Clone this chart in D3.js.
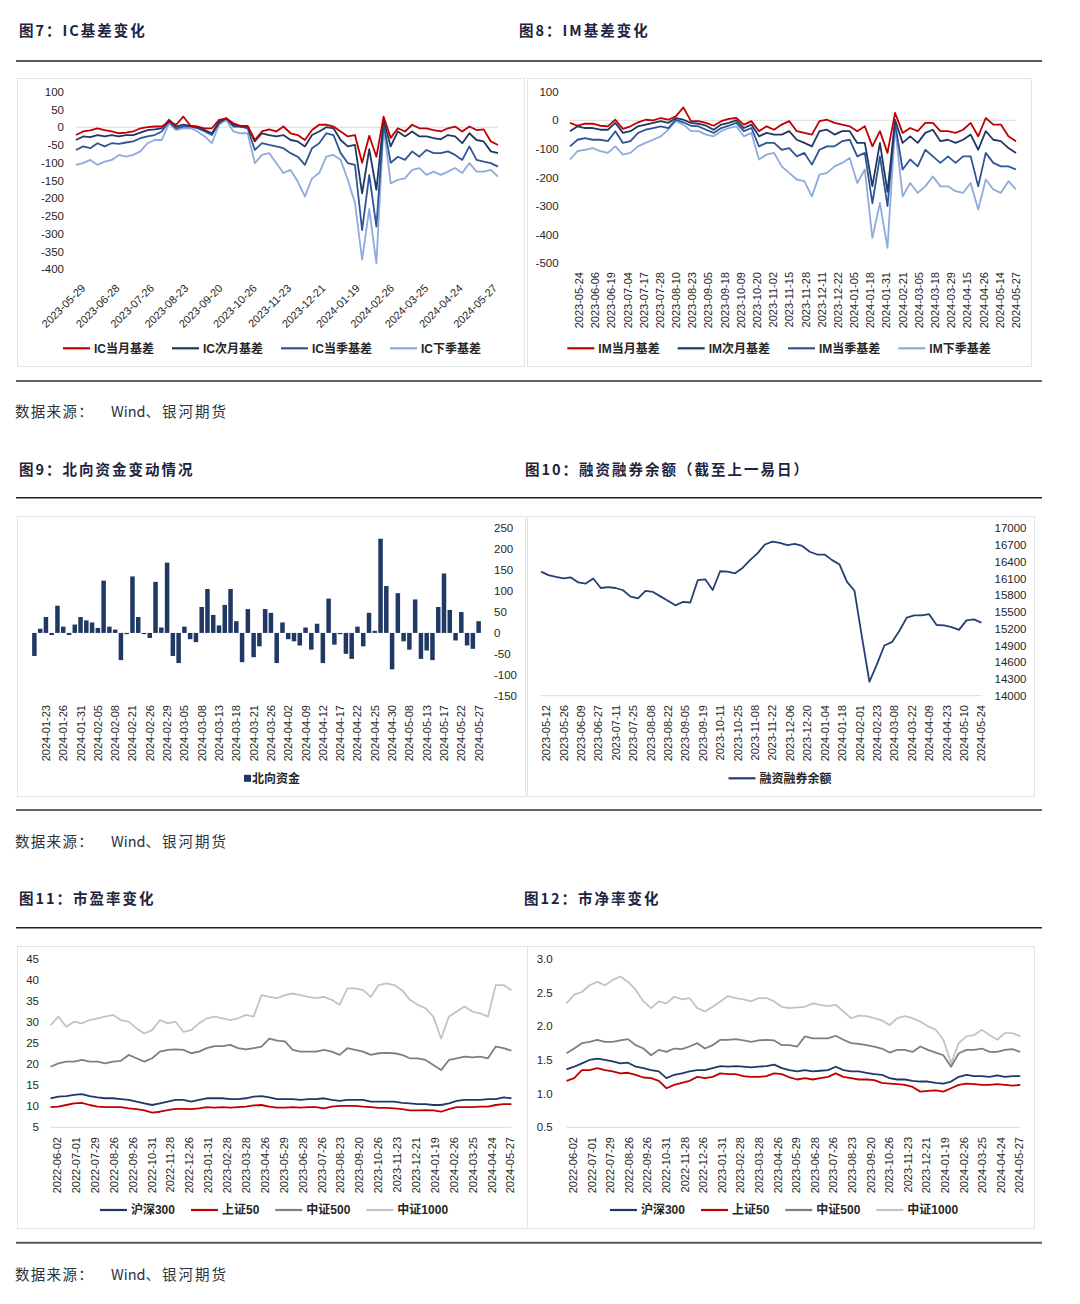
<!DOCTYPE html>
<html>
<head>
<meta charset="utf-8">
<script src="https://cdn.jsdelivr.net/npm/d3@7"></script>
<style>
  body { margin: 0; background: #fff; }
</style>
</head>
<body>
<script>
// ---------- data ----------

// fig 7: IC basis, 60 samples over ~246 trading days
const icDates = ["2023-05-29","2023-06-28","2023-07-26","2023-08-23","2023-09-20","2023-10-26","2023-11-23","2023-12-21","2024-01-19","2024-02-26","2024-03-25","2024-04-24","2024-05-27"];
const icCur = [-22,-12,-9,-3,-8,-12,-17,-15,-12,-3, 0,2,2,16,7,30,4,2,-3,-3, 21,25,11,4,4,-36,-12,-6,-12,2, -17,-22,-36,-8,7,7,2,-12,-26,-22, -100,-24,-83,30,-30,-3,-12,7,-3,-3, -8,-12,-3,2,-12,2,-8,-6,-40,-50];
const icNext = [-36,-26,-28,-22,-26,-22,-26,-22,-22,-15, -8,-6,-3,21,2,7,4,0,-8,-17, 16,25,7,2,2,-40,-17,-22,-26,-22, -36,-40,-54,-22,-12,0,-3,-36,-54,-50, -186,-62,-176,21,-54,-12,-26,-12,-26,-26, -31,-34,-22,-26,-45,-17,-36,-40,-68,-73];
const icQtr = [-64,-54,-59,-45,-54,-45,-47,-43,-40,-31, -26,-22,-12,16,-3,2,2,-3,-12,-22, 11,25,2,2,-3,-64,-45,-50,-54,-59, -73,-83,-106,-59,-45,-17,-22,-73,-101,-106, -290,-134,-280,11,-100,-83,-92,-68,-83,-64, -73,-73,-68,-78,-92,-54,-92,-97,-101,-111];
const icNextQtr = [-106,-101,-92,-106,-97,-92,-78,-83,-78,-68, -45,-36,-36,11,-8,-3,-3,-12,-26,-45, 7,21,-12,-17,-17,-101,-78,-73,-101,-129, -120,-153,-195,-144,-129,-83,-78,-92,-148,-213, -373,-230,-383,2,-158,-148,-144,-120,-115,-134, -125,-134,-125,-115,-129,-101,-125,-125,-120,-139];

// fig 8: IM basis
const imDates = ["2023-05-24","2023-06-06","2023-06-19","2023-07-04","2023-07-17","2023-07-28","2023-08-10","2023-08-23","2023-09-05","2023-09-18","2023-10-09","2023-10-20","2023-11-02","2023-11-15","2023-11-28","2023-12-11","2023-12-22","2024-01-05","2024-01-18","2024-01-31","2024-02-21","2024-03-05","2024-03-18","2024-03-29","2024-04-15","2024-04-26","2024-05-14","2024-05-27"];
const imCur = [-9,-19,-12,-12,-19,-21,2,-30,-21,-7, 2,0,8,2,14,45,-3,-3,-9,-19, -3,5,8,-15,-3,-38,-21,-33,-15,-3, -38,-44,-50,-3,2,-9,-15,-21,-38,-21, -91,-38,-114,26,-44,-27,-38,-9,-9,-38, -38,-44,-33,-9,-56,8,-15,-15,-56,-73];
const imNext = [-38,-21,-27,-27,-33,-33,-9,-44,-38,-21, -15,-9,-3,-9,8,2,-9,-12,-19,-33, -15,-9,0,-27,-15,-56,-44,-50,-50,-38, -68,-79,-91,-38,-33,-50,-38,-38,-79,-79, -230,-79,-250,2,-79,-56,-79,-44,-33,-73, -68,-79,-68,-50,-103,-38,-68,-73,-97,-114];
const imQtr = [-91,-68,-62,-68,-68,-73,-38,-79,-73,-44, -33,-27,-21,-27,2,-7,-19,-21,-33,-44, -27,-19,-9,-38,-27,-91,-79,-79,-103,-97, -126,-114,-155,-103,-91,-91,-73,-68,-126,-114, -290,-126,-300,-9,-172,-137,-161,-103,-126,-149, -126,-149,-126,-126,-231,-114,-149,-161,-161,-172];
const imNextQtr = [-137,-108,-103,-97,-108,-114,-91,-120,-114,-91, -79,-68,-56,-33,-3,-15,-38,-38,-50,-56, -38,-27,-21,-56,-44,-137,-120,-114,-161,-184, -207,-213,-266,-190,-184,-161,-149,-132,-219,-172, -411,-289,-446,-21,-266,-219,-254,-231,-196,-231, -231,-248,-254,-219,-312,-207,-242,-254,-213,-242];

// fig 9: northbound flow, one bar per day, every 3rd day labelled from the 3rd
const northDates = ["2024-01-23","2024-01-26","2024-01-31","2024-02-05","2024-02-08","2024-02-21","2024-02-26","2024-02-29","2024-03-05","2024-03-08","2024-03-13","2024-03-18","2024-03-21","2024-03-26","2024-04-02","2024-04-09","2024-04-12","2024-04-17","2024-04-22","2024-04-25","2024-04-30","2024-05-08","2024-05-13","2024-05-17","2024-05-22","2024-05-27"];
const northFlow = [-55,10,38,-5,65,15,-5,20,38,30, 25,12,125,15,8,-65,-3,135,38,-3, -12,122,13,168,-55,-72,15,-15,-22,62, 105,43,18,67,105,28,-70,57,-58,-32, 57,48,-72,25,-15,-20,-30,13,-40,22, -72,82,-28,-3,-50,-62,15,-32,48,5, 225,112,-87,95,-20,-40,80,-62,-42,-65, 62,142,55,-18,50,-30,-38,28];

// fig 10: margin balance
const marginDates = ["2023-05-12","2023-05-26","2023-06-09","2023-06-27","2023-07-11","2023-07-25","2023-08-08","2023-08-22","2023-09-05","2023-09-19","2023-10-11","2023-10-25","2023-11-08","2023-11-22","2023-12-06","2023-12-20","2024-01-04","2024-01-18","2024-02-01","2024-02-23","2024-03-08","2024-03-22","2024-04-09","2024-04-23","2024-05-10","2024-05-24"];
const marginBal = [16223,16160,16130,16104,16120,16030,16010,16100,15930,15945, 15930,15890,15775,15745,15880,15860,15780,15700,15620,15680, 15670,16070,16085,15894,16230,16225,16193,16290,16430,16550, 16710,16761,16740,16700,16720,16683,16580,16530,16530,16430, 16350,16040,15880,15050,14250,14560,14900,14960,15160,15400, 15440,15440,15460,15267,15260,15230,15180,15350,15369,15309];

// fig 11 / 12: PE and PB
const valDates = ["2022-06-02","2022-07-01","2022-07-29","2022-08-26","2022-09-26","2022-10-31","2022-11-28","2022-12-26","2023-01-31","2023-02-28","2023-03-28","2023-04-26","2023-05-29","2023-06-28","2023-07-26","2023-08-23","2023-09-20","2023-10-26","2023-11-23","2023-12-21","2024-01-19","2024-02-26","2024-03-25","2024-04-24","2024-05-27"];
const pe300 = [11.9,12.3,12.4,12.7,12.9,12.4,12.1,11.9,11.9,11.7, 11.5,11.1,10.7,10.3,10.7,11.1,11.5,11.5,11.1,11.5, 11.9,11.9,11.9,11.7,11.7,11.9,12.3,12.4,12.1,11.7, 11.7,11.7,11.5,11.7,11.7,11.9,11.5,11.3,11.5,11.5, 11.5,11.1,11.1,11.1,11.1,10.8,10.7,10.5,10.5,10.3, 10.3,10.7,11.3,11.5,11.5,11.5,11.7,11.7,12.1,11.9];
const pe50 = [9.8,9.9,10.3,10.7,10.8,10.3,9.9,9.8,9.8,9.8, 9.5,9.3,9.0,8.5,8.7,9.1,9.4,9.4,9.3,9.5, 9.8,9.7,9.8,9.7,9.8,9.9,10.2,10.3,9.9,9.7, 9.7,9.8,9.7,9.8,9.8,9.5,9.9,10.1,10.1,10.1, 9.9,9.8,9.6,9.6,9.5,9.3,9.0,9.0,9.1,9.0, 8.7,9.3,9.8,9.8,9.8,9.9,9.9,10.3,10.5,10.5];
const pe500 = [19.4,20.2,20.6,20.6,21.0,20.6,20.6,20.2,20.6,20.8, 22.2,21.4,20.6,21.4,23.0,23.4,23.5,23.4,22.6,23.0, 23.8,24.3,24.3,24.6,23.8,23.5,23.8,24.2,26.1,25.6, 25.4,23.4,23.0,23.0,23.0,23.4,23.0,22.2,23.8,23.4, 23.0,22.2,22.6,22.7,22.6,22.2,21.4,21.4,21.0,19.8, 18.6,21.0,21.4,21.8,21.6,21.8,21.4,24.2,23.8,23.2];
const pe1000 = [29.3,31.3,28.9,30.1,29.7,30.5,30.9,31.3,31.7,30.5, 30.1,28.5,27.3,28.1,30.5,29.7,30.1,27.7,28.1,29.7, 30.9,31.3,30.9,30.5,30.9,31.7,31.3,36.4,36.0,35.7, 36.4,36.8,36.4,36.0,35.7,36.0,35.3,34.1,38.0,38.0, 37.6,36.0,38.8,39.2,38.8,37.6,35.3,34.1,33.3,31.3, 26.1,31.3,32.5,33.7,32.5,32.1,31.3,38.8,38.8,37.6];
const pb300 = [1.36,1.40,1.45,1.50,1.52,1.50,1.48,1.45,1.46,1.40, 1.38,1.35,1.33,1.23,1.28,1.30,1.33,1.35,1.35,1.38, 1.41,1.40,1.41,1.40,1.39,1.40,1.41,1.43,1.38,1.35, 1.33,1.35,1.33,1.34,1.35,1.40,1.35,1.33,1.33,1.31, 1.29,1.28,1.23,1.21,1.21,1.19,1.18,1.18,1.16,1.15, 1.18,1.25,1.28,1.26,1.26,1.25,1.27,1.25,1.26,1.26];
const pb50 = [1.19,1.23,1.35,1.35,1.38,1.35,1.33,1.30,1.31,1.28, 1.24,1.23,1.19,1.08,1.13,1.16,1.19,1.25,1.23,1.25, 1.30,1.29,1.29,1.26,1.25,1.25,1.26,1.30,1.29,1.24, 1.21,1.23,1.21,1.23,1.25,1.30,1.25,1.23,1.21,1.21, 1.20,1.16,1.15,1.14,1.13,1.10,1.03,1.04,1.05,1.03, 1.08,1.13,1.15,1.14,1.13,1.13,1.14,1.13,1.12,1.13];
const pb500 = [1.60,1.67,1.75,1.77,1.80,1.77,1.77,1.79,1.81,1.72, 1.67,1.57,1.65,1.62,1.67,1.66,1.70,1.75,1.67,1.72, 1.80,1.80,1.81,1.79,1.77,1.79,1.80,1.79,1.72,1.72, 1.70,1.85,1.82,1.82,1.82,1.86,1.80,1.75,1.74,1.72, 1.70,1.67,1.61,1.65,1.65,1.62,1.70,1.65,1.61,1.57, 1.40,1.60,1.65,1.65,1.67,1.62,1.62,1.65,1.66,1.62];
const pb1000 = [2.34,2.47,2.51,2.61,2.66,2.61,2.69,2.74,2.66,2.54, 2.37,2.27,2.37,2.34,2.44,2.40,2.42,2.27,2.22,2.29, 2.37,2.45,2.42,2.40,2.37,2.42,2.42,2.37,2.29,2.27, 2.28,2.29,2.34,2.32,2.30,2.32,2.22,2.12,2.16,2.15, 2.12,2.09,2.02,2.12,2.15,2.12,2.07,2.00,1.95,1.80, 1.45,1.75,1.85,1.87,1.95,1.87,1.80,1.90,1.90,1.85];

// ---------- drawing ----------
const LAT = "'Liberation Sans', Arial, 'Noto Sans CJK SC', sans-serif";
const CJK = "'Noto Sans CJK SC', sans-serif";
const RED = "#c00000", NAVY = "#1f3864", MID = "#2f5597", LIGHT = "#8faadc";
const GREY = "#7f7f7f", PALE = "#c3c3c3";

const svg = d3.select("body").append("svg")
    .attr("width", 1080)
    .attr("height", 1304)
    .style("background", "#fff");

function rule(y, w, c) {
  svg.append("line").attr("x1", 16).attr("x2", 1042).attr("y1", y).attr("y2", y)
      .attr("stroke", c).attr("stroke-width", w);
}

function frame(x0, y0, x1, y1) {
  svg.append("rect").attr("x", x0 + 0.5).attr("y", y0 + 0.5)
      .attr("width", x1 - x0).attr("height", y1 - y0)
      .attr("fill", "none").attr("stroke", "#e4e4e4");
}

function title(x, y, t) {
  svg.append("text").attr("x", x).attr("y", y).attr("dy", "0.36em")
      .attr("font-family", CJK).attr("font-weight", 700).attr("font-size", 14.5)
      .attr("letter-spacing", 2).attr("fill", "#1c2440").text(t);
}

function source(y) {
  const t = svg.append("text").attr("y", y).attr("dy", "0.36em")
      .attr("font-family", CJK).attr("font-size", 14.5).attr("fill", "#2b3340");
  t.append("tspan").attr("x", 15).attr("letter-spacing", 1.3).text("数据来源：");
  t.append("tspan").attr("x", 111).text("Wind");
  t.append("tspan").attr("letter-spacing", 2).text("、银河期货");
}

function legend(cx, y, items, gap, square) {
  const g = svg.append("g");
  let x = 0;
  items.forEach(it => {
    const ig = g.append("g").attr("transform", `translate(${x},0)`);
    let tx;
    if (square) {
      ig.append("rect").attr("x", 0).attr("y", -3.5).attr("width", 7).attr("height", 7).attr("fill", it.color);
      tx = 8;
    } else {
      ig.append("line").attr("x1", 0).attr("x2", 27).attr("stroke", it.color).attr("stroke-width", 2.2);
      tx = 31;
    }
    const t = ig.append("text").attr("x", tx).attr("dy", "0.36em")
        .attr("font-family", LAT).attr("font-weight", 700).attr("font-size", 12)
        .attr("fill", "#262626").text(it.name);
    x += tx + t.node().getComputedTextLength() + gap;
  });
  g.attr("transform", `translate(${cx - (x - gap) / 2},${y})`);
}

function yLabels(y, ticks, x, anchor, fmt) {
  svg.append("g").selectAll("text").data(ticks).join("text")
      .attr("x", x).attr("y", d => y(d)).attr("dy", "0.36em")
      .attr("text-anchor", anchor)
      .attr("font-family", LAT).attr("font-size", 11.5).attr("fill", "#262626")
      .text(fmt);
}

function xLabels(pos, labels, top, angle) {
  svg.append("g").selectAll("text").data(labels).join("text")
      .attr("transform", (d, i) => angle === -45
          ? `translate(${pos(i) - 3},${top}) rotate(-45)`
          : `translate(${pos(i)},${top}) rotate(-90)`)
      .attr("dy", "0.36em")
      .attr("text-anchor", "end")
      .attr("font-family", LAT).attr("font-size", 11).attr("fill", "#262626")
      .text(d => d);
}

function hline(x0, x1, y) {
  svg.append("line").attr("x1", x0).attr("x2", x1).attr("y1", y).attr("y2", y)
      .attr("stroke", "#d9d9d9").attr("stroke-width", 1);
}

function lines(x, y, days, series) {
  series.forEach(s => {
    const n = s.values.length;
    const line = d3.line()
        .x((d, i) => x(i * days / (n - 1)))
        .y(d => y(d));
    svg.append("path").datum(s.values)
        .attr("d", line)
        .attr("fill", "none")
        .attr("stroke", s.color)
        .attr("stroke-width", 1.8)
        .attr("stroke-linejoin", "round");
  });
}

// page furniture
rule(61, 2, "#595959");
rule(381, 1.5, "#333");
rule(497.7, 1.5, "#222");
rule(810, 1.5, "#333");
rule(927.7, 1.5, "#222");
rule(1242.7, 2, "#595959");

title(19, 30.7, "图7：IC基差变化");
title(519, 30.7, "图8：IM基差变化");
title(19, 469.3, "图9：北向资金变动情况");
title(525, 469.3, "图10：融资融券余额（截至上一易日）");
title(19, 898.3, "图11：市盈率变化");
title(524, 898.3, "图12：市净率变化");

source(412);
source(842);
source(1274.3);

frame(17, 78, 524, 366);
frame(527, 78, 1031, 366);
frame(17, 516, 525, 796);
frame(527, 516, 1034, 796);
frame(17, 946, 527, 1228);
frame(527, 946, 1034, 1228);

// ---- fig 7 IC ----
{
  const days = 246;
  const x = d3.scaleLinear().domain([0, days]).range([76, 498]);
  const y = d3.scaleLinear().domain([-400, 100]).range([269.3, 91.7]);
  hline(76, 498, y(0));
  lines(x, y, days, [
    { values: icNextQtr, color: LIGHT },
    { values: icQtr, color: MID },
    { values: icNext, color: NAVY },
    { values: icCur, color: RED }
  ]);
  yLabels(y, d3.range(100, -401, -50), 64, "end", d => d);
  xLabels(i => x(6 + 20 * i), icDates, 286, -45);
  legend(272, 348.3, [
    { name: "IC当月基差", color: RED },
    { name: "IC次月基差", color: NAVY },
    { name: "IC当季基差", color: MID },
    { name: "IC下季基差", color: LIGHT }
  ], 18);
}

// ---- fig 8 IM ----
{
  const days = 248;
  const x = d3.scaleLinear().domain([0, days]).range([570, 1016]);
  const y = d3.scaleLinear().domain([-500, 100]).range([263.3, 91.7]);
  hline(570, 1016, y(0));
  lines(x, y, days, [
    { values: imNextQtr, color: LIGHT },
    { values: imQtr, color: MID },
    { values: imNext, color: NAVY },
    { values: imCur, color: RED }
  ]);
  yLabels(y, d3.range(100, -501, -100), 558.6, "end", d => d);
  xLabels(i => x(5 + 9 * i), imDates, 272, -90);
  legend(779, 348.3, [
    { name: "IM当月基差", color: RED },
    { name: "IM次月基差", color: NAVY },
    { name: "IM当季基差", color: MID },
    { name: "IM下季基差", color: LIGHT }
  ], 18);
}

// ---- fig 9 northbound ----
{
  const x = d3.scaleBand().domain(d3.range(northFlow.length))
      .range([31.5, 481.5]).paddingInner(0.22).paddingOuter(0.11);
  const y = d3.scaleLinear().domain([-150, 250]).range([695.7, 528.3]);
  svg.append("g").selectAll("rect").data(northFlow).join("rect")
      .attr("x", (d, i) => x(i))
      .attr("width", x.bandwidth())
      .attr("y", d => y(Math.max(0, d)))
      .attr("height", d => Math.abs(y(d) - y(0)))
      .attr("fill", "#203864");
  yLabels(y, d3.range(250, -151, -50), 494, "start", d => d);
  xLabels(i => x(2 + 3 * i) + x.bandwidth() / 2, northDates, 705, -90);
  legend(272, 778.3, [{ name: "北向资金", color: "#203864" }], 0, true);
}

// ---- fig 10 margin balance ----
{
  const days = 253;
  const x = d3.scaleLinear().domain([0, days]).range([541, 981.4]);
  const y = d3.scaleLinear().domain([14000, 17000]).range([695.7, 528.3]);
  hline(541, 981.4, y(14000));
  lines(x, y, days, [{ values: marginBal, color: "#243f73" }]);
  yLabels(y, d3.range(17000, 13999, -300), 994.5, "start", d => d);
  xLabels(i => x(3 + 10 * i), marginDates, 705, -90);
  legend(780, 778.3, [{ name: "融资融券余额", color: "#243f73" }], 0);
}

// ---- fig 11 PE ----
{
  const days = 488;
  const x = d3.scaleLinear().domain([0, days]).range([50.6, 511.4]);
  const y = d3.scaleLinear().domain([5, 45]).range([1127.3, 959]);
  hline(50.6, 511.4, y(5));
  lines(x, y, days, [
    { values: pe1000, color: PALE },
    { values: pe500, color: GREY },
    { values: pe50, color: RED },
    { values: pe300, color: NAVY }
  ]);
  yLabels(y, d3.range(45, 4, -5), 39, "end", d => d);
  xLabels(i => x(7 + 20 * i), valDates, 1137, -90);
  legend(274, 1210, [
    { name: "沪深300", color: NAVY },
    { name: "上证50", color: RED },
    { name: "中证500", color: GREY },
    { name: "中证1000", color: PALE }
  ], 16);
}

// ---- fig 12 PB ----
{
  const days = 488;
  const x = d3.scaleLinear().domain([0, days]).range([566.5, 1020.3]);
  const y = d3.scaleLinear().domain([0.5, 3.0]).range([1127.3, 959]);
  hline(566.5, 1020.3, y(0.5));
  lines(x, y, days, [
    { values: pb1000, color: PALE },
    { values: pb500, color: GREY },
    { values: pb50, color: RED },
    { values: pb300, color: NAVY }
  ]);
  yLabels(y, [3.0, 2.5, 2.0, 1.5, 1.0, 0.5], 552.7, "end", d => d.toFixed(1));
  xLabels(i => x(7 + 20 * i), valDates, 1137, -90);
  legend(784, 1210, [
    { name: "沪深300", color: NAVY },
    { name: "上证50", color: RED },
    { name: "中证500", color: GREY },
    { name: "中证1000", color: PALE }
  ], 16);
}
</script>
</body>
</html>
